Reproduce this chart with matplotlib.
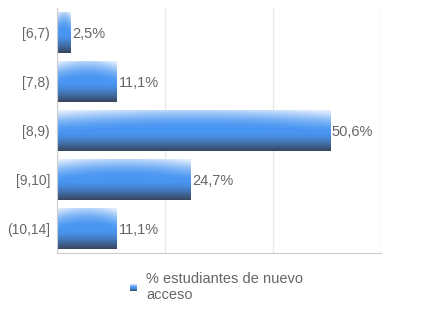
import matplotlib
matplotlib.use("Agg")
import matplotlib.pyplot as plt
import numpy as np

# data
categories = ["[6,7)", "[7,8)", "[8,9)", "[9,10]", "(10,14]"]
values = [2.5, 11.1, 50.6, 24.7, 11.1]
value_labels = ["2,5%", "11,1%", "50,6%", "24,7%", "11,1%"]
series_name = "% estudiantes de nuevo\nacceso"

plt.rcParams['font.family'] = ['Liberation Sans', 'DejaVu Sans']
text_color = '#666666'


def bar_gradient(nx=200, ny=80, bulge=0.12):
    """light top, blue middle, dark bottom; the light part dips a bit at the ends"""
    light = np.array([0.88, 0.93, 0.99])
    blue = np.array([0.29, 0.59, 0.95])
    dark = np.array([0.22, 0.27, 0.36])
    u = np.linspace(0, 1, nx)[None, :]
    v = np.linspace(0, 1, ny)[:, None]
    v_eff = v + bulge * (1 - (2 * u - 1) ** 2) - bulge * 0.5
    top = np.clip(1 - v_eff / 0.48, 0, 1) ** 1.5
    bot = np.clip((v - 0.55) / 0.45, 0, 1) ** 1.4
    img = blue[None, None, :] * np.ones((ny, nx, 1))
    img = img * (1 - top[..., None]) + light * top[..., None]
    img = img * (1 - bot[..., None]) + dark * bot[..., None]
    return np.clip(img, 0, 1)


fig = plt.figure(figsize=(4.32, 3.24), dpi=100)
ax = fig.add_axes([57 / 432, 1 - 253 / 324, 324 / 432, 245 / 324])

ypos = np.arange(len(categories))
bh = 0.84
bars = ax.barh(ypos, values, height=bh, color='none', edgecolor='none', zorder=2)
grad = bar_gradient()
for b, y, val in zip(bars, ypos, values):
    im = ax.imshow(grad, extent=[0, val, y + bh / 2, y - bh / 2],
                   aspect='auto', zorder=2, interpolation='bilinear')
    im.set_clip_path(b)

for y, val, lab in zip(ypos, values, value_labels):
    ax.text(val + 0.3, y, lab, va='center_baseline', ha='left', fontsize=10.5, color=text_color)

ax.set_xlim(0, 60)
ax.set_ylim(len(categories) - 0.5, -0.5)
ax.set_xticks([0, 20, 40, 60])
ax.set_xticklabels([])
ax.set_yticks(ypos)
ax.set_yticklabels(categories, fontsize=10, color=text_color, va='center_baseline')
ax.tick_params(length=0, pad=5)
ax.grid(axis='x', color='#e8e8e8', linewidth=1, zorder=0)
for s in ['top', 'right']:
    ax.spines[s].set_visible(False)
for s in ['left', 'bottom']:
    ax.spines[s].set_color('#cccccc')
    ax.spines[s].set_zorder(3)

# legend
lax = fig.add_axes([130 / 432, 1 - 291 / 324, 7 / 432, 7 / 324])
lax.imshow(bar_gradient(20, 20, bulge=0), aspect='auto', interpolation='bilinear')
lax.axis('off')
fig.text(146 / 432, 1 - 272 / 324, series_name, va='top', ha='left',
         fontsize=10.5, color=text_color, linespacing=1.2)

fig.savefig("out.png", dpi=100)
